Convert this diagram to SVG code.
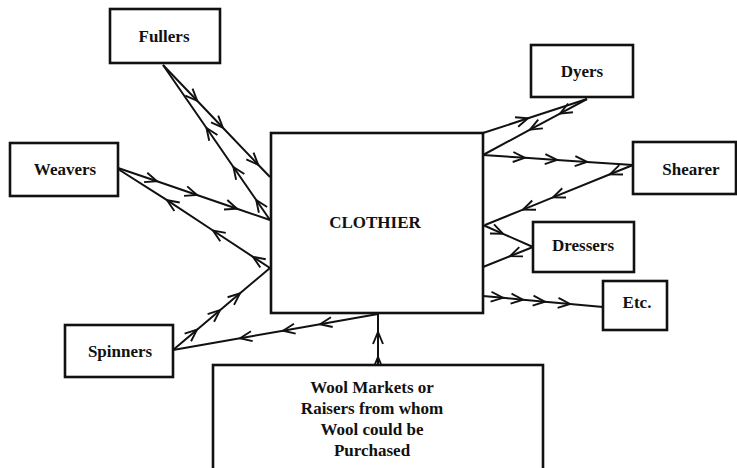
<svg xmlns="http://www.w3.org/2000/svg" width="737" height="468" viewBox="0 0 737 468">
  <style>
    .box { fill: #fff; stroke: #111; stroke-width: 2.6; }
    .lbl { font-family: "Liberation Serif", "Times New Roman", serif; font-weight: bold; font-size: 17px; fill: #111; text-anchor: middle; }
    .link { fill: none; stroke: #111; stroke-width: 2; stroke-linejoin: round; marker-mid: url(#ah); }
  </style>
  <defs>
    <marker id="ah" viewBox="-14 -7 16 14" refX="0" refY="0" markerWidth="16" markerHeight="14" markerUnits="userSpaceOnUse" orient="auto">
      <path d="M-12,-5 L0,0 L-12,5" fill="none" stroke="#111" stroke-width="1.9" stroke-linejoin="miter"/>
    </marker>
  </defs>
  <rect width="737" height="468" fill="#fff"/>

  <!-- connectors: arrowheads sit on the inner vertices, pointing along the point order -->
  <g id="connectors">
    <polyline class="link" points="163,65 197.2,100.8 222.9,127.7 258.2,164.7 270,177"/>
    <polyline class="link" points="270,220 256.2,200 233.4,167 206.5,128 163,65"/>
    <polyline class="link" points="118,168 157,181.3 197,195 237,208.7 270,220"/>
    <polyline class="link" points="270,268 253,256.8 213,230.5 167,200.2 118,169"/>
    <polyline class="link" points="173,350 197,329.7 220,310.2 240,293.3 270,268"/>
    <polyline class="link" points="378,314 320,324.2 283,330.7 240,338.2 173,350"/>
    <polyline class="link" points="378,365 378,357 378,332 378,313"/>
    <polyline class="link" points="483,133 528,118.3 587,99"/>
    <polyline class="link" points="587,99 560,113.6 530,129.7 483,155"/>
    <polyline class="link" points="483,155 525,157.8 557,159.9 587,161.9 633,165"/>
    <polyline class="link" points="633,165 610,174.3 553,197.4 523,209.6 485,225"/>
    <polyline class="link" points="483,225 503,233.8 533,247"/>
    <polyline class="link" points="533,247 510,256.2 483,267"/>
    <polyline class="link" points="483,296 503,297.8 523,299.7 545,301.7 570,304 603,307"/>
  </g>

  <g id="clothier">
    <rect class="box" x="271" y="133" width="212" height="180"/>
    <text class="lbl" x="375" y="228">CLOTHIER</text>
  </g>
  <g id="fullers">
    <rect class="box" x="110" y="9" width="110" height="54"/>
    <text class="lbl" x="164" y="42">Fullers</text>
  </g>
  <g id="weavers">
    <rect class="box" x="10" y="143" width="108" height="53"/>
    <text class="lbl" x="65" y="175">Weavers</text>
  </g>
  <g id="spinners">
    <rect class="box" x="65" y="325" width="108" height="52"/>
    <text class="lbl" x="120" y="357">Spinners</text>
  </g>
  <g id="dyers">
    <rect class="box" x="531" y="45" width="102" height="52"/>
    <text class="lbl" x="582" y="77">Dyers</text>
  </g>
  <g id="shearer">
    <rect class="box" x="633" y="142" width="103" height="52"/>
    <text class="lbl" x="691" y="175">Shearer</text>
  </g>
  <g id="dressers">
    <rect class="box" x="533" y="222" width="101" height="50"/>
    <text class="lbl" x="583" y="251">Dressers</text>
  </g>
  <g id="etc">
    <rect class="box" x="603" y="281" width="64" height="49"/>
    <text class="lbl" x="637" y="308">Etc.</text>
  </g>
  <g id="wool-markets">
    <rect class="box" x="213" y="365" width="330" height="110"/>
    <text class="lbl" x="372" y="393">Wool Markets or</text>
    <text class="lbl" x="372" y="414">Raisers from whom</text>
    <text class="lbl" x="372" y="435">Wool could be</text>
    <text class="lbl" x="372" y="456">Purchased</text>
  </g>
</svg>
